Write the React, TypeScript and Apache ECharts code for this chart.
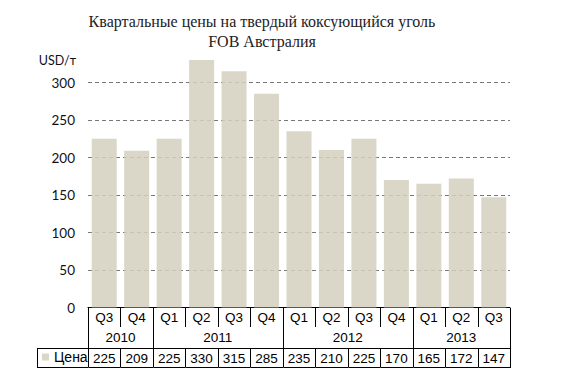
import React, { useEffect, useRef } from "react";
import * as echarts from "echarts";

const quarters = ["Q3", "Q4", "Q1", "Q2", "Q3", "Q4", "Q1", "Q2", "Q3", "Q4", "Q1", "Q2", "Q3"];
const prices = [225, 209, 225, 330, 315, 285, 235, 210, 225, 170, 165, 172, 147];
const years = ["2010", "2011", "2012", "2013"];
const yearSpans = [2, 4, 4, 3];
const seriesName = "Цена";
const titleText = "Квартальные цены на твердый коксующийся уголь\nFOB Австралия";
const yUnit = "USD/т";

const yearStarts: number[] = [];
{
  let acc = 0;
  yearSpans.forEach((s) => {
    yearStarts.push(acc);
    acc += s;
  });
}

const TABLE_FONT = '"Liberation Sans", Arial, sans-serif';

export default function App() {
  const ref = useRef<HTMLDivElement>(null);
  useEffect(() => {
    if (!ref.current) return;
    const chart = echarts.init(ref.current, undefined, { renderer: "svg" });
    const n = quarters.length;
    const px = (v: number) => Math.round(v) + 0.5;

    const renderItem = (params: any, api: any) => {
      const i = api.value(0);
      const c = api.coord([i, 0]);
      const bw = api.size([1, 0])[0];
      const cx = c[0];
      const y0 = Math.round(c[1]);
      const xl = px(cx - bw / 2);
      const xr = px(cx + bw / 2);
      const lineStyle = { stroke: "#000", lineWidth: 1 };
      const children: any[] = [];
      const line = (x1: number, y1: number, x2: number, y2: number) =>
        children.push({ type: "line", shape: { x1, y1, x2, y2 }, style: lineStyle, silent: true });
      const text = (t: string, x: number, y: number) =>
        children.push({
          type: "text",
          style: {
            text: t,
            x,
            y,
            align: "center",
            verticalAlign: "middle",
            fontSize: 13.5,
            fontFamily: TABLE_FONT,
            fill: "#000",
          },
          silent: true,
        });
      const yi = yearStarts.indexOf(i);
      const isStart = yi >= 0;
      line(xl, y0, xl, y0 + (isStart ? 40 : 19));
      line(xl, y0 + 40, xl, y0 + 59);
      line(xl, y0 + 40.5, xr, y0 + 40.5);
      line(xl, y0 + 59.5, xr, y0 + 59.5);
      if (i === n - 1) line(xr, y0, xr, y0 + 60);
      if (i === 0) {
        const lx = px(cx - bw / 2 - 51);
        line(lx, y0 + 40.5, xl, y0 + 40.5);
        line(lx, y0 + 59.5, xl, y0 + 59.5);
        line(lx, y0 + 40, lx, y0 + 60);
      }
      text(quarters[i], cx, y0 + 9.5);
      text(String(prices[i]), cx, y0 + 50);
      if (isStart) {
        const last = api.coord([i + yearSpans[yi] - 1, 0])[0] + bw / 2;
        const left = cx - bw / 2;
        text(years[yi], (left + last) / 2, y0 + 29);
      }
      return { type: "group", children };
    };

    chart.setOption({
      animation: false,
      title: {
        text: titleText,
        left: 262,
        top: 11,
        padding: 0,
        textAlign: "center",
        textStyle: {
          fontFamily: '"Liberation Serif", serif',
          fontSize: 16,
          fontWeight: "normal",
          color: "#222",
          lineHeight: 20,
        },
      },
      legend: {
        data: [seriesName],
        left: 42,
        top: 350,
        padding: 0,
        itemWidth: 7,
        itemHeight: 7,
        icon: "rect",
        selectedMode: false,
        textStyle: { fontSize: 14, fontFamily: TABLE_FONT, color: "#000", padding: [0, 0, 0, 0] },
      },
      grid: { left: 88, width: 422, top: 45, height: 262.5 },
      xAxis: {
        type: "category",
        data: quarters,
        axisLine: { show: true, lineStyle: { color: "#000", width: 1 } },
        axisTick: { show: false },
        axisLabel: { show: false },
      },
      yAxis: {
        type: "value",
        min: 0,
        max: 350,
        interval: 50,
        name: yUnit,
        nameLocation: "end",
        nameGap: -15.5,
        nameTextStyle: {
          align: "right",
          verticalAlign: "middle",
          padding: [0, 12, 0, 0],
          fontFamily: "Lato, sans-serif",
          fontSize: 12.5,
          color: "#111",
        },
        axisLine: { show: false },
        axisTick: { show: false },
        axisLabel: {
          showMaxLabel: false,
          margin: 13,
          fontFamily: "Lato, sans-serif",
          fontSize: 13.5,
          color: "#111",
        },
        splitLine: {
          show: true,
          showMaxLine: false,
          showMinLine: false,
          lineStyle: { color: "#777", type: [4, 3], width: 1 },
        },
      },
      series: [
        {
          name: seriesName,
          type: "bar",
          data: prices,
          barWidth: 25,
          itemStyle: { color: "#d3cfbe", opacity: 0.85 },
        },
        {
          type: "custom",
          name: "table",
          renderItem,
          clip: false,
          silent: true,
          encode: { x: 0, y: 1 },
          data: quarters.map((_, i) => [i, 0]),
          z: 5,
        },
      ],
    });
    return () => chart.dispose();
  }, []);
  return <div ref={ref} style={{ width: 574, height: 389, position: "absolute", left: 0, top: 0 }} />;
}
